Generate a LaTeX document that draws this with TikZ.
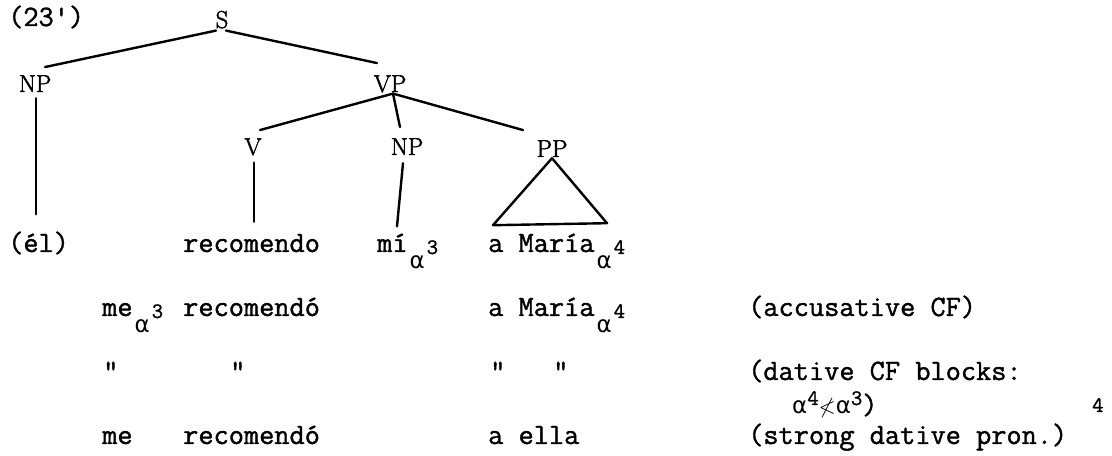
\documentclass[tikz,border=0pt]{standalone}
\usepackage{fontspec}
\usepackage{amssymb}
\usetikzlibrary{calc}
\newfontfamily\alfont{DejaVu Sans}
\newfontface\twface{Latin Modern Mono}[FakeBold=1.3]
\newfontface\catface{Latin Modern Roman}[FakeBold=2]
\newcommand\twf{\fontsize{29.5bp}{32bp}\twface}
\newcommand\smf{\fontsize{22bp}{24bp}\selectfont}
\newcommand\alf{{\alfont\fontsize{23bp}{24bp}\selectfont α}}
\newcommand\sua[1]{\hspace{2bp}\raisebox{-17bp}{\alf}\hspace{2bp}\raisebox{-2bp}{\smf #1}}
\begin{document}
\begin{tikzpicture}[x=1bp,y=-1bp,
  tw/.style={font=\twf, inner sep=0pt, anchor=base west},
  cat/.style={font=\fontsize{24.5bp}{26bp}\catface, inner sep=1bp, anchor=base},
  edge/.style={line width=2.4bp, line cap=round, line join=round}]
\useasboundingbox (0,0) rectangle (1112,456);
% tree labels
\node[tw] (ex) at (8,26) {(23\textquotesingle)};
\node[cat] (S) at (222,28) {S};
\node[cat] (NPa) at (35,92) {NP};
\node[cat] (VP) at (390,92) {VP};
\node[cat] (V) at (253,155) {V};
\node[cat] (NPb) at (407,155) {NP};
\node[cat] (PP) at (552,157) {PP};
% row 1
\node[tw] (el) at (8,252) {(él)};
\node[tw] (rec) at (183,252) {recomendo};
\node[tw] (mi) at (377,252) {mí\sua{3}};
\node[tw] (maria) at (488,252) {a María\sua{4}};
% row 2
\node[tw] (me) at (102,316) {me\sua{3}};
\node[tw] (reco) at (183,316) {recomendó};
\node[tw] (mariab) at (488,316) {a María\sua{4}};
\node[tw] (acc) at (748,316) {(accusative CF)};
% row 3
\node[tw] (qa) at (103,380) {\textquotedbl};
\node[tw] (qb) at (230,380) {\textquotedbl};
\node[tw] (qc) at (490,380) {\textquotedbl};
\node[tw] (qd) at (553,380) {\textquotedbl};
\node[tw] (dat) at (748,380) {(dative CF blocks:};
\node[tw] (cond) at (792,414) {\alf\raisebox{9bp}{\smf 4}{\smf$\nless$}\alf\raisebox{9bp}{\smf 3})};
\node[tw] (fn) at (1092,412) {\smf 4};
% row 4
\node[tw] (mec) at (102,444) {me};
\node[tw] (recc) at (183,444) {recomendó};
\node[tw] (ella) at (488,444) {a ella};
\node[tw] (strong) at (748,444) {(strong dative pron.)};
% edges
\draw[edge] ($(S.south)+(-6,1)$) -- ($(NPa.north)+(10,-7)$);
\draw[edge] ($(S.south)+(4,1)$) -- ($(VP.north)+(-13,-11)$);
\draw[edge] ($(VP.south)+(3,0)$) -- ($(V.north)+(7,-7)$);
\draw[edge] ($(VP.south)+(3,0)$) -- ($(NPb.north)+(-7,-10)$);
\draw[edge] ($(VP.south)+(3,0)$) -- ($(PP.north)+(-29,-9)$);
\draw[edge] ($(NPa.south)+(1,5)$) -- ($(NPa.south |- el.north)+(1,-17)$);
\draw[edge] ($(V.south)+(1,6)$) -- ($(V.south |- rec.north)+(1,-12)$);
\draw[edge] ($(NPb.south)+(-4,7)$) -- ($(mi.north west)+(20,-7)$);
\draw[edge] (PP.south) -- ($(PP.south)+(-59,67)$) -- ($(PP.south)+(55,65)$) -- cycle;
\end{tikzpicture}
\end{document}
